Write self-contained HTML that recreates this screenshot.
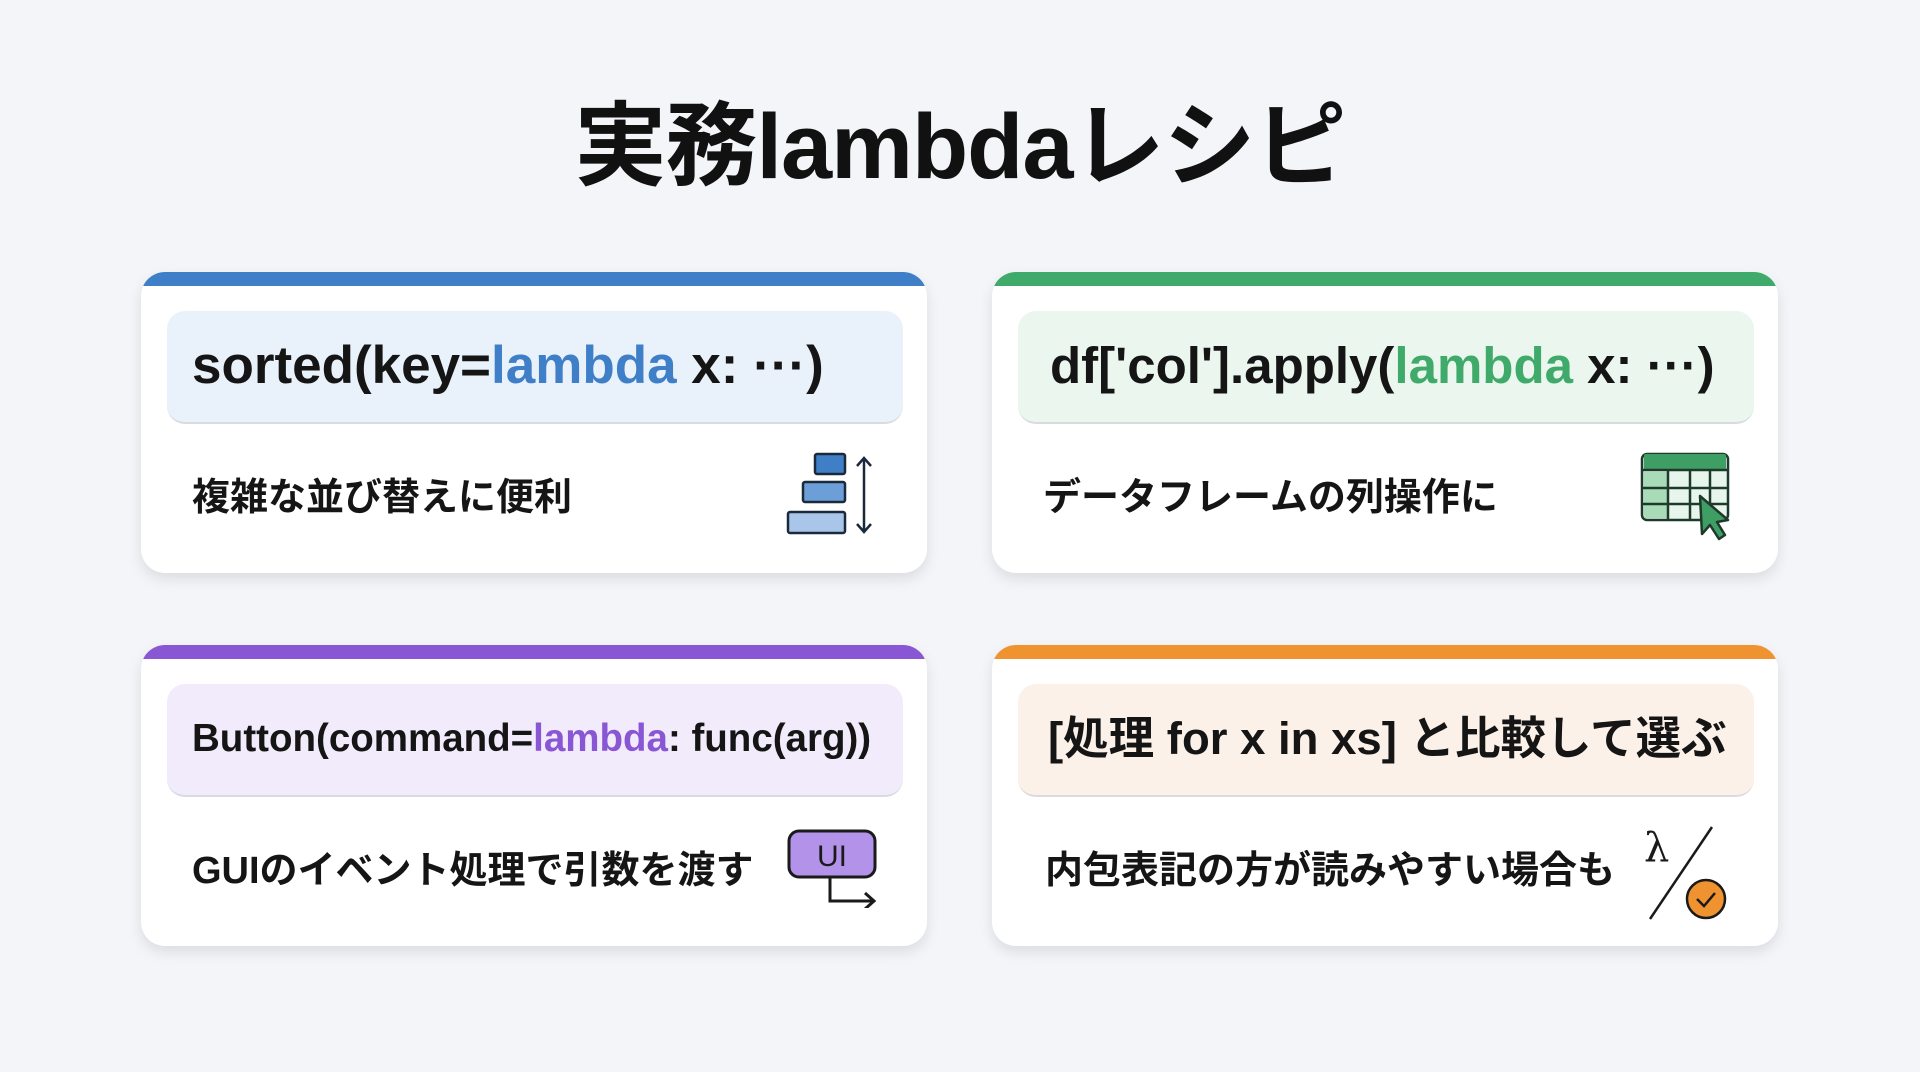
<!DOCTYPE html>
<html><head><meta charset="utf-8"><style>
body{margin:0;width:1920px;height:1072px;background:#f3f5f8;font-family:"Liberation Sans","Noto Sans CJK JP",sans-serif;overflow:hidden;position:relative}
.title{position:absolute;left:0;width:1920px;top:72px;text-align:center;font-size:92px;font-weight:bold;color:#111;letter-spacing:-1px}
.card{position:absolute;width:786px;height:301px;background:#fff;border-radius:24px;box-shadow:0 6px 14px rgba(0,0,0,0.10);overflow:hidden}
.bar{position:absolute;left:0;top:0;width:100%;height:14px}
.code{position:absolute;left:26px;top:39px;width:736px;height:113px;border-radius:18px;border-bottom:2px solid #d8dbe0;box-sizing:border-box}
.code span.t{position:absolute;left:25px;top:-2px;line-height:113px;font-weight:bold;color:#151515;white-space:nowrap}
.desc{position:absolute;left:51px;top:198px;line-height:56px;font-size:38px;font-weight:bold;color:#151515;white-space:nowrap}
.icon{position:absolute}
</style></head><body>
<div class="title">実務lambdaレシピ</div>

<div class="card" style="left:141px;top:272px">
 <div class="bar" style="background:#3f7fc8"></div>
 <div class="code" style="background:#e9f1fb"><span class="t" style="font-size:53px">sorted(key=<span style="color:#3f7fc8">lambda</span> x: ···)</span></div>
 <div class="desc">複雑な並び替えに便利</div>
 <svg class="icon" style="left:645px;top:178px" width="95" height="90" viewBox="0 0 95 90">
  <rect x="29" y="4" width="30" height="20" rx="2" fill="#3f7fc8" stroke="#1a2a3a" stroke-width="2.5"/>
  <rect x="17" y="32" width="42" height="20" rx="2" fill="#6c9fd8" stroke="#1a2a3a" stroke-width="2.5"/>
  <rect x="2" y="62" width="57" height="21" rx="2" fill="#a9c6ea" stroke="#1a2a3a" stroke-width="2.5"/>
  <path d="M78 8 V82 M71 16 L78 8 L85 16 M71 74 L78 82 L85 74" stroke="#1a2a3a" stroke-width="2.5" fill="none"/>
 </svg>
</div>

<div class="card" style="left:992px;top:272px">
 <div class="bar" style="background:#3faa6a"></div>
 <div class="code" style="background:#eaf6ee"><span class="t" style="font-size:51px;left:32px">df['col'].apply(<span style="color:#3faa6a">lambda</span> x: ···)</span></div>
 <div class="desc">データフレームの列操作に</div>
 <svg class="icon" style="left:648px;top:180px" width="95" height="90" viewBox="0 0 95 90">
  <rect x="42" y="22" width="44" height="44" fill="#f4fbf6"/>
  <rect x="2" y="2" width="86" height="66" rx="5" fill="#e8f5ec" stroke="#1e3a2a" stroke-width="2.5"/>
  <path d="M4 18 H86 V4 Q86 2 84 2 H6 Q4 2 4 4 Z" fill="#3f9e63"/>
  <rect x="4" y="20" width="24" height="46" fill="#a9dbb9"/>
  <path d="M2 18 H88 M2 36 H88 M2 52 H88 M28 18 V68 M50 18 V68 M70 18 V68" stroke="#1e3a2a" stroke-width="2.5"/>
  <path d="M60 44 L62 82 L70 73 L79 87 L85 83 L77 70 L88 68 Z" fill="#3f9e63" stroke="#1e3a2a" stroke-width="2.5" stroke-linejoin="round"/>
 </svg>
</div>

<div class="card" style="left:141px;top:645px">
 <div class="bar" style="background:#8a57d4"></div>
 <div class="code" style="background:#f1ebfb"><span class="t" style="font-size:38.5px">Button(command=<span style="color:#8a57d4">lambda</span>: func(arg))</span></div>
 <div class="desc">GUIのイベント処理で引数を渡す</div>
 <svg class="icon" style="left:645px;top:183px" width="95" height="80" viewBox="0 0 95 80">
  <rect x="3" y="3" width="86" height="46" rx="10" fill="#b393ea" stroke="#1a1a1a" stroke-width="3"/>
  <text x="46" y="38" text-anchor="middle" font-family="Liberation Sans" font-size="30" fill="#1a1a1a">UI</text>
  <path d="M44 49 V73 H88 M79 65 L88 73 L79 81" stroke="#1a1a1a" stroke-width="3" fill="none"/>
 </svg>
</div>

<div class="card" style="left:992px;top:645px">
 <div class="bar" style="background:#ef9330"></div>
 <div class="code" style="background:#fcf1e8"><span class="t" style="font-size:45.5px;left:30px">[処理 for x in xs] と比較して選ぶ</span></div>
 <div class="desc" style="left:53px">内包表記の方が読みやすい場合も</div>
 <svg class="icon" style="left:650px;top:178px" width="90" height="100" viewBox="0 0 90 100">
  <text x="2" y="38" font-family="DejaVu Serif" font-size="40" fill="#1a1a1a">λ</text>
  <path d="M8 96 L70 4" stroke="#1a1a1a" stroke-width="2.5"/>
  <circle cx="64" cy="76" r="19" fill="#ef9330" stroke="#1a1a1a" stroke-width="2.5"/>
  <path d="M55 76 L62 83 L73 70" stroke="#1a1a1a" stroke-width="2.5" fill="none"/>
 </svg>
</div>
</body></html>
